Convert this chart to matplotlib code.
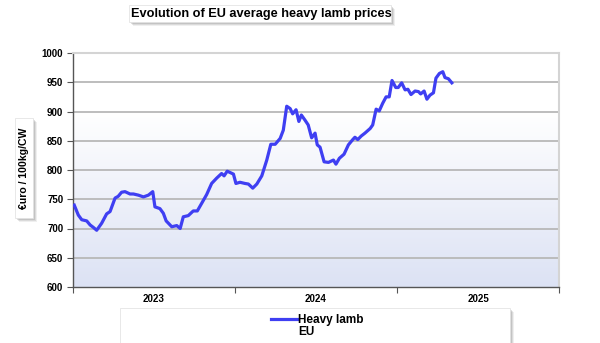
import numpy as np
import matplotlib
matplotlib.use("Agg")
import matplotlib.pyplot as plt
from matplotlib.patches import Rectangle
from matplotlib import font_manager

# ---- data ----
weeks = [0.4, 1.7, 2.8, 4.4, 5.5, 6.5, 7.6, 9.2, 10.8, 11.9, 13.5, 14.5, 15.6, 16.7,
         18.3, 19.4, 21.0, 22.6, 24.2, 25.6, 26.3, 27.9, 29.0, 29.9, 31.7, 33.3, 34.4,
         35.4, 37.0, 38.6, 39.9, 41.3, 42.9, 44.5, 46.1, 47.7, 48.5, 49.5, 51.5, 52.3,
         53.6, 55.2, 56.3, 57.7, 59.0, 60.6, 62.2, 63.5, 64.9, 66.5, 67.5, 68.6, 69.7,
         70.5, 71.6, 72.5, 73.3, 74.5, 75.5, 76.6, 77.7, 78.4, 79.3, 80.6, 82.0, 83.6,
         84.4, 85.5, 87.0, 88.4, 89.8, 90.5, 91.4, 92.5, 93.7, 95.4, 96.2, 97.3, 98.3,
         99.4, 100.5, 101.5, 102.4, 103.6, 104.4, 105.5, 106.6, 107.5, 108.5, 109.8,
         110.9, 111.6, 112.7, 113.6, 114.6, 115.7, 116.5, 117.6, 118.7, 119.4, 120.5, 121.6]
prices = [740, 723, 715, 713, 706, 702, 697, 709, 725, 729, 752, 755, 762, 763,
          759, 759, 757, 754, 757, 763, 737, 734, 726, 713, 703, 705, 700,
          720, 722, 730, 730, 743, 758, 777, 786, 794, 790, 798, 793, 777,
          779, 777, 776, 769, 776, 790, 817, 844, 844, 854, 868, 909, 905,
          896, 903, 883, 894, 885, 877, 855, 863, 843, 839, 814, 813, 817,
          810, 820, 827, 843, 852, 856, 852, 858, 863, 871, 877, 904, 901,
          914, 925, 925, 953, 941, 941, 949, 937, 938, 929, 935,
          934, 930, 935, 921, 928, 932, 957, 965, 968, 958, 956, 949]
year_labels = ["2023", "2024", "2025"]
y_ticks = [600, 650, 700, 750, 800, 850, 900, 950, 1000]
series_name = "Heavy lamb\nEU"
title = "Evolution of EU average heavy lamb prices"
ylabel = "€uro / 100kg/CW"

WEEKS_PER_YEAR = 52.0
x = np.array(weeks) / WEEKS_PER_YEAR

plt.rcParams['font.family'] = ['Liberation Sans', 'DejaVu Sans']

installed = {f.name for f in font_manager.fontManager.ttflist}
if 'Liberation Sans Narrow' in installed:
    title_family, title_size = ['Liberation Sans Narrow', 'DejaVu Sans'], 11
else:
    title_family, title_size = ['Liberation Sans', 'DejaVu Sans'], 9.2

fig = plt.figure(figsize=(6.0, 3.43), dpi=100)
fig.patch.set_facecolor('white')
ax = fig.add_axes([73/600, 1-287/343, (559-73)/600, (287-53)/343])

# gradient background
grad = np.linspace(0, 1, 256).reshape(-1, 1, 1)
top = np.array([1.0, 1.0, 1.0])
bot = np.array([0xdc, 0xe2, 0xf4]) / 255
t = np.clip((grad - 0.25) / 0.75, 0, 1)
cols = top + (bot - top) * t
ax.imshow(cols, extent=[0, 3, 600, 1000], aspect='auto', zorder=0, origin='upper')

ax.set_xlim(0, 3)
ax.set_ylim(600, 1000)
ax.set_yticks(y_ticks)
ax.set_yticklabels([str(v) for v in y_ticks], fontsize=7, fontweight='bold')
for v in y_ticks[1:]:
    ax.axhline(v, color='#b8b8b8', lw=1.3, zorder=1)

ax.plot(x, prices, color='#3f3ff2', lw=2.3, zorder=3, solid_joinstyle='round')

ax.set_xticks([0, 1, 2, 3])
ax.set_xticklabels([])
ax.set_xticks([0.5, 1.5, 2.5], minor=True)
ax.set_xticklabels(year_labels, minor=True, fontsize=7, fontweight='bold')
ax.tick_params(axis='x', which='minor', length=0, pad=5)
ax.tick_params(axis='x', which='major', length=4, direction='out', color='#555555')
ax.tick_params(axis='y', length=4, direction='out', color='#555555', pad=3)

for s in ['top', 'right']:
    ax.spines[s].set_color('#d4d4d4')
    ax.spines[s].set_linewidth(1.5)
for s in ['left', 'bottom']:
    ax.spines[s].set_color('#555555')
    ax.spines[s].set_linewidth(1.0)

def shadow_box(x0, y0, w, h):
    # soft shadow: several offset layers
    for k, a in [(4, 0.12), (3, 0.18), (2, 0.25), (1, 0.3)]:
        fig.patches.append(Rectangle((x0 + k/600, y0 - k/343), w, h, transform=fig.transFigure,
                                     facecolor='#808080', edgecolor='none', alpha=a, zorder=1))
    fig.patches.append(Rectangle((x0, y0), w, h, transform=fig.transFigure,
                                 facecolor='white', edgecolor='#e4e4e4', lw=0.6, zorder=2))

# title box
shadow_box(129/600, 1-22/343, (391-129)/600, 17/343)
fig.text(261/600, 1-13.5/343, title, ha='center', va='center', fontsize=title_size,
         fontweight='bold', family=title_family, zorder=5)

# y label box
shadow_box(15/600, 1-218/343, 18/600, 100/343)
fig.text(24.5/600, 1-168/343, ylabel, ha='center', va='center', rotation=90,
         fontsize=7.6, fontweight='bold', zorder=5)

# legend box
shadow_box(120/600, -6/343, (510-120)/600, (343-308+6)/343)
fig.lines.append(plt.Line2D([271/600, 297/600], [1-319/343, 1-319/343],
                            transform=fig.transFigure, color='#3f3ff2', lw=2.3, zorder=5))
fig.text(298/600, 1-326/343, series_name, ha='left', va='center', fontsize=8.5,
         fontweight='bold', linespacing=1.0, zorder=5)

fig.savefig('out.png', dpi=100)
